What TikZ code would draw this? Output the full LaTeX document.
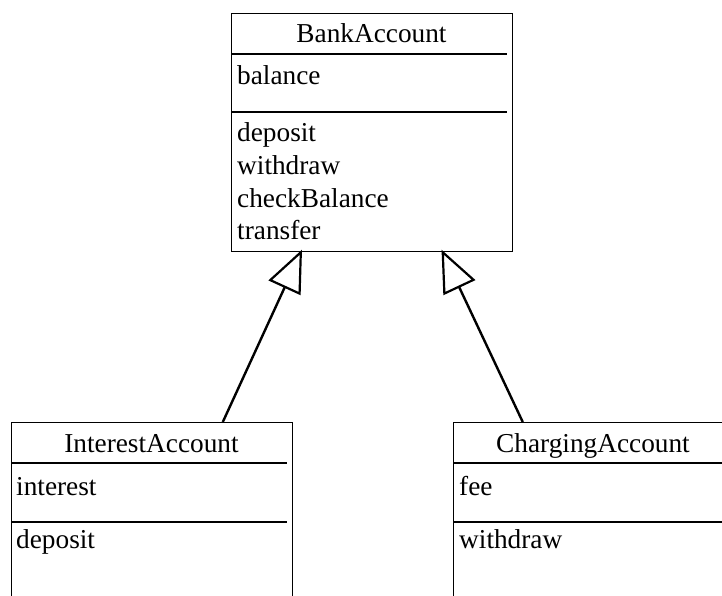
\documentclass[tikz,border=0pt]{standalone}
\usepackage{fontspec}
\setmainfont{Liberation Serif}
\usetikzlibrary{arrows.meta,calc}

\tikzset{
  classbox/.style={draw, line width=1.4pt, rectangle, inner sep=0pt,
                   anchor=north west, minimum width=281pt},
  sepline/.style={line width=1.4pt},
  title/.style={anchor=base, inner sep=0pt},
  member/.style={anchor=base west, inner sep=0pt},
  inherits/.style={line width=2.4pt, shorten >=-3pt,
                   -{Triangle[open, length=42pt, width=35pt, line width=2.2pt]}},
}

\begin{document}
\begin{tikzpicture}[x=1pt, y=-1pt, font=\fontsize{27.3}{32}\selectfont]
  \useasboundingbox (0,0) rectangle (722,596);
  \clip (0,0) rectangle (722,596);

  % superclass
  \node[classbox, minimum height=238pt] (bank) at (231,13) {};
  \draw[sepline] (231,54) -- (507,54);
  \draw[sepline] (231,112) -- (507,112);
  \node[title] (bankname) at (371.5,43) {BankAccount};
  \node[member] (balance) at (237,85) {balance};
  \node[member] (depositA) at (237,142) {deposit};
  \node[member] (withdrawA) at (237,175) {withdraw};
  \node[member] (check) at (237,207) {checkBalance};
  \node[member] (transfer) at (237,239) {transfer};

  % subclass with interest
  \node[classbox, minimum height=220pt] (interestacc) at (11,422) {};
  \draw[sepline] (11,463) -- (287,463);
  \draw[sepline] (11,522) -- (287,522);
  \node[title] (interestname) at (151.5,452) {InterestAccount};
  \node[member] (interest) at (16,495) {interest};
  \node[member] (depositB) at (16,548) {deposit};

  % subclass with fees
  \node[classbox, minimum height=220pt] (charging) at (453,422) {};
  \draw[sepline] (453,463) -- (729,463);
  \draw[sepline] (453,522) -- (729,522);
  \node[title] (chargingname) at (593,452) {ChargingAccount};
  \node[member] (fee) at (459,495) {fee};
  \node[member] (withdrawB) at (459,548) {withdraw};

  % generalisation arrows
  \draw[inherits] ($(interestacc.north west)!0.75!(interestacc.north east)$)
                -- ($(bank.south west)!0.247!(bank.south east)$);
  \draw[inherits] ($(charging.north west)!0.247!(charging.north east)$)
                -- ($(bank.south west)!0.75!(bank.south east)$);
\end{tikzpicture}
\end{document}
